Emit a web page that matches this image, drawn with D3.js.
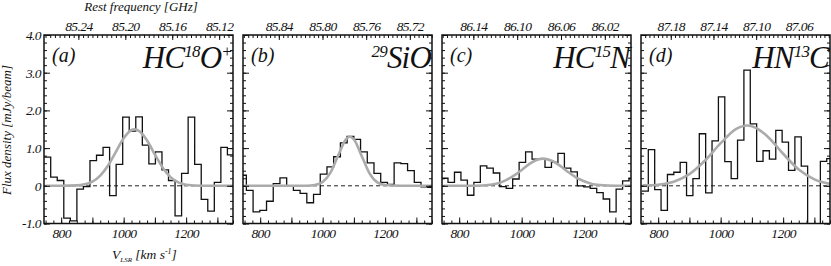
<!DOCTYPE html>
<html>
<head>
<meta charset="utf-8">
<script src="https://cdn.jsdelivr.net/npm/d3@7"></script>
<style>
body { margin: 0; background: #fff; }
text { font-family: "Liberation Serif", "DejaVu Serif", serif; font-style: italic; }
</style>
</head>
<body>
<svg id="chart" width="831" height="266"></svg>
<script>
// panel tags and line names
var panelTags = ["(a)", "(b)", "(c)", "(d)"];
var lineNames = [
  [["HC", 0], ["18", 1], ["O", 0], ["+", 1]],
  [["29", 1], ["SiO", 0]],
  [["HC", 0], ["15", 1], ["N", 0]],
  [["HN", 0], ["13", 1], ["C", 0]]
];

// channels: left edge of first channel and channel width [km/s]
var chanStart = [745.5, 734.3, 743.5, 748.0];
var chanWidth = [20.95, 21.5, 20.7, 20.4];

// flux per channel [mJy/beam]
var fluxA = [0.76, 0.23, 0.14, -0.86, -0.93, -0.09, -0.02, 0.67, 0.81, 1.02, -0.26, 0.57, 1.82, 1.45, 1.83,
             1.08, 0.58, 0.90, 0.42, 0.14, -0.80, 0.33, 1.82, 0.57, -0.36, -0.67, 0.09, 1.02, 0.82];
var fluxB = [0.28, -0.12, -0.69, -0.65, -0.41, 0.06, 0.21, 0.0, -0.12, -0.20, -0.45, -0.23, 0.31, 0.50, 0.77,
             1.14, 1.31, 1.23, 0.90, 0.61, 0.33, 0.09, 0.04, 0.61, 0.59, 0.40, 0.09, -0.03, -0.04];
var fluxC = [0.20, 0.09, 0.36, 0.15, -0.25, 0.09, 0.53, 0.47, 0.34, -0.02, -0.07, 0.18, 0.62, 0.90, 0.71,
             0.72, 0.49, 0.62, 0.86, 0.47, 0.37, 0.0, -0.03, -0.07, -0.18, -0.35, -0.69, -0.09, 0.13, 0.20];
var fluxD = [-0.14, 0.96, -0.10, -0.65, 0.30, 0.36, 0.62, -0.26, 0.19, 1.38, -0.19, 1.19, 2.36, 0.64, 0.19,
             1.21, 3.07, 1.64, 0.65, 0.93, 0.71, 1.47, 1.16, 0.41, 1.30, 0.52, -1.5, -1.5, 0.65, 0.72];

// gaussian fit curves
var fitVelA = [750, 800, 850, 875, 900, 925, 950, 975, 1000, 1025, 1035, 1050, 1075, 1100, 1125, 1150, 1175, 1200, 1250, 1300, 1350];
var fitA    = [0, 0, 0.01, 0.04, 0.11, 0.27, 0.54, 0.90, 1.26, 1.48, 1.50, 1.45, 1.20, 0.83, 0.48, 0.23, 0.09, 0.03, 0, 0, 0];
var fitVelB = [750, 900, 950, 975, 1000, 1025, 1050, 1075, 1087, 1100, 1125, 1150, 1175, 1200, 1250, 1350];
var fitB    = [0, 0, 0, 0.02, 0.10, 0.35, 0.81, 1.24, 1.30, 1.23, 0.79, 0.33, 0.09, 0.02, 0, 0];
var fitVelC = [750, 850, 900, 925, 950, 975, 1000, 1025, 1050, 1070, 1100, 1125, 1150, 1175, 1200, 1225, 1250, 1300, 1350];
var fitC    = [0, 0, 0.03, 0.07, 0.15, 0.27, 0.42, 0.58, 0.69, 0.72, 0.65, 0.52, 0.36, 0.22, 0.12, 0.05, 0.02, 0, 0];
var fitVelD = [750, 800, 850, 900, 950, 1000, 1050, 1085, 1100, 1150, 1200, 1250, 1300, 1350];
var fitD    = [0.01, 0.03, 0.11, 0.31, 0.67, 1.13, 1.51, 1.60, 1.58, 1.31, 0.85, 0.43, 0.17, 0.05];

// top axis: rest frequency at left / right edge, and labelled ticks [GHz]
var freqEdges = [[85.2693, 85.1082], [85.8728, 85.6997], [86.1686, 85.9961], [87.2079, 87.0308]];
var freqTicks = [[85.24, 85.20, 85.16, 85.12], [85.84, 85.80, 85.76, 85.72],
                 [86.14, 86.10, 86.06, 86.02], [87.18, 87.14, 87.10, 87.06]];

var velDomain = [745, 1350];
var velLabels = [800, 1000, 1200];
var yTicks = [-1, 0, 1, 2, 3, 4];
var yTickLabels = ["-1.0", "0", "1.0", "2.0", "3.0", "4.0"];

var fluxes = [fluxA, fluxB, fluxC, fluxD];
var fitVels = [fitVelA, fitVelB, fitVelC, fitVelD];
var fits = [fitA, fitB, fitC, fitD];

var left0 = 44, panelW = 189, gap = 10, plotTop = 35, plotBottom = 223.5;
var svg = d3.select("#chart");

var y = d3.scaleLinear().domain([-1, 4]).range([plotBottom, plotTop]);

function styleAxis(g) {
  g.select(".domain").remove();
  g.selectAll("line").attr("stroke", "#111").attr("stroke-width", 1);
  g.selectAll("text").attr("font-family", "Liberation Serif, DejaVu Serif, serif").attr("font-style", "italic")
    .attr("font-size", 13.5).attr("fill", "#111").attr("letter-spacing", "-0.6px");
}

fluxes.forEach(function(flux, p) {
  var x0 = left0 + p * (panelW + gap);
  var x = d3.scaleLinear().domain(velDomain).range([x0, x0 + panelW]);
  var f = d3.scaleLinear().domain(freqEdges[p]).range([x0, x0 + panelW]);
  var g = svg.append("g");

  g.append("clipPath").attr("id", "clip" + p)
    .append("rect").attr("x", x0).attr("y", plotTop).attr("width", panelW).attr("height", plotBottom - plotTop);

  // zero line
  g.append("line")
    .attr("x1", x0).attr("x2", x0 + panelW).attr("y1", y(0)).attr("y2", y(0))
    .attr("stroke", "#222").attr("stroke-width", 1).attr("stroke-dasharray", "4,3");

  // histogram
  var pts = flux.map(function(d, i) { return [chanStart[p] + i * chanWidth[p], d]; });
  pts.push([chanStart[p] + flux.length * chanWidth[p], flux[flux.length - 1]]);
  var step = d3.line().x(function(d) { return x(d[0]); }).y(function(d) { return y(d[1]); })
    .curve(d3.curveStepAfter);
  g.append("path").attr("d", step(pts)).attr("clip-path", "url(#clip" + p + ")")
    .attr("fill", "none").attr("stroke", "#111").attr("stroke-width", 1.3);

  // fit
  var fitLine = d3.line().x(function(d) { return x(d[0]); }).y(function(d) { return y(d[1]); })
    .curve(d3.curveMonotoneX);
  g.append("path").attr("d", fitLine(d3.zip(fitVels[p], fits[p]))).attr("clip-path", "url(#clip" + p + ")")
    .attr("fill", "none").attr("stroke", "#ababab").attr("stroke-width", 2.6);

  // bottom axis
  g.append("g").attr("transform", "translate(0," + plotBottom + ")")
    .call(d3.axisBottom(x).tickValues(d3.range(750, 1351, 25)).tickSizeInner(-3).tickSizeOuter(0).tickFormat(""))
    .call(styleAxis);
  g.append("g").attr("transform", "translate(0," + plotBottom + ")")
    .call(d3.axisBottom(x).tickValues(d3.range(800, 1301, 100)).tickSizeInner(-6).tickSizeOuter(0).tickPadding(5)
      .tickFormat(function(d) { return velLabels.indexOf(d) >= 0 ? d : ""; }))
    .call(styleAxis);

  // top axis (frequency)
  var fr = freqEdges[p];
  var minorF = d3.range(Math.ceil(fr[1] / 0.004) * 0.004, fr[0], 0.004);
  g.append("g").attr("transform", "translate(0," + plotTop + ")")
    .call(d3.axisTop(f).tickValues(minorF).tickSizeInner(-3).tickSizeOuter(0).tickFormat(""))
    .call(styleAxis);
  g.append("g").attr("transform", "translate(0," + plotTop + ")")
    .call(d3.axisTop(f).tickValues(freqTicks[p]).tickSizeInner(-5).tickSizeOuter(0).tickPadding(4)
      .tickFormat(d3.format(".2f")))
    .call(styleAxis);

  // left / right axes
  [[d3.axisLeft, x0], [d3.axisRight, x0 + panelW]].forEach(function(a, k) {
    g.append("g").attr("transform", "translate(" + a[1] + ",0)")
      .call(a[0](y).tickValues(d3.range(-1, 4.01, 0.2)).tickSizeInner(-3).tickSizeOuter(0).tickFormat(""))
      .call(styleAxis);
    g.append("g").attr("transform", "translate(" + a[1] + ",0)")
      .call(a[0](y).tickValues(yTicks).tickSizeInner(-6).tickSizeOuter(0).tickPadding(3)
        .tickFormat(function(d, i) { return (p === 0 && k === 0) ? yTickLabels[i] : ""; }))
      .call(styleAxis);
  });

  // frame
  g.append("rect").attr("x", x0).attr("y", plotTop).attr("width", panelW).attr("height", plotBottom - plotTop)
    .attr("fill", "none").attr("stroke", "#111").attr("stroke-width", 1.5);

  // panel tag
  g.append("text").attr("x", x0 + 8).attr("y", 62).attr("font-size", 20).attr("fill", "#111")
    .text(panelTags[p]);

  // molecule name
  var t = g.append("text").attr("x", x0 + panelW - 1).attr("y", 68).attr("text-anchor", "end")
    .attr("font-size", 31).attr("fill", "#111").attr("letter-spacing", "-0.8px");
  var raised = false;
  lineNames[p].forEach(function(part) {
    var dy = 0;
    if (part[1] && !raised) { dy = -11; raised = true; }
    else if (!part[1] && raised) { dy = 11; raised = false; }
    t.append("tspan").attr("dy", dy).attr("font-size", part[1] ? 17 : 31).text(part[0]);
  });
});

// axis titles
svg.append("text").attr("x", 141).attr("y", 11).attr("text-anchor", "middle").attr("font-size", 13)
  .attr("fill", "#111").text("Rest frequency [GHz]");

svg.append("text").attr("transform", "translate(11,130) rotate(-90)").attr("text-anchor", "middle")
  .attr("font-size", 13).attr("fill", "#111").text("Flux density [mJy/beam]");

var xt = svg.append("text").attr("x", 112).attr("y", 259).attr("font-size", 13.5).attr("fill", "#111");
xt.append("tspan").text("V");
xt.append("tspan").attr("dy", 3).attr("font-size", 7).text("LSR");
xt.append("tspan").attr("dy", -3).text(" [km s");
xt.append("tspan").attr("dy", -5).attr("font-size", 8).text("-1");
xt.append("tspan").attr("dy", 5).text("]");
</script>
</body>
</html>
